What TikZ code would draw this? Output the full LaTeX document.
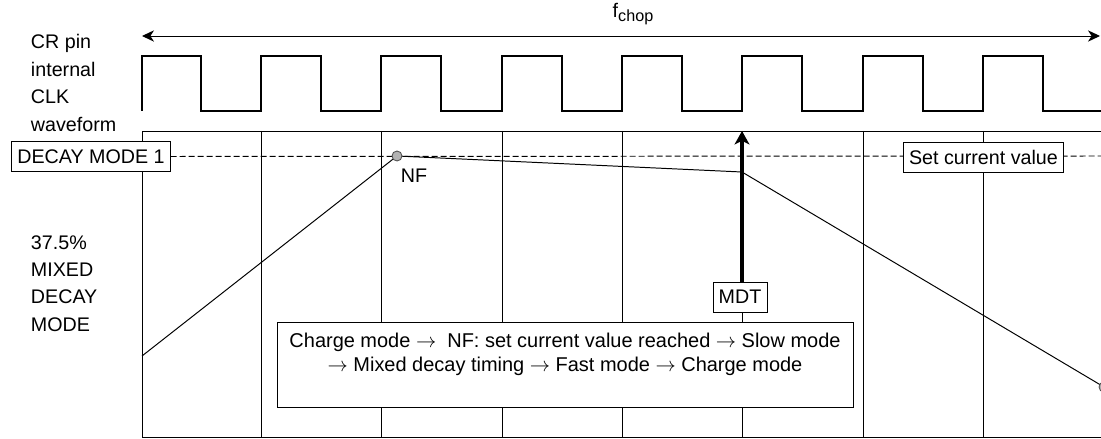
\documentclass[tikz,border=0pt]{standalone}
\usepackage{fontspec}
\setmainfont{Liberation Sans}
\usetikzlibrary{arrows.meta,positioning}

\tikzset{
    labelbox/.style={draw, fill=white, inner sep=4pt, minimum height=0.75cm},
    gridline/.style={line width=0.7pt},
    pointmark/.style={circle, draw=black!70, fill=black!30, line width=0.6pt, inner sep=0pt, minimum size=0.25cm},
}

\begin{document}
\begin{tikzpicture}[x=0.025cm, y=-0.025cm, font=\fontsize{14}{19.5}\selectfont]
    \clip (0,0) rectangle (1101,439);

    % Frequency arrow across the top
    \draw[{Stealth[length=8.5pt,width=8pt,inset=2.5pt]}-{Stealth[length=8.5pt,width=8pt,inset=2.5pt]}, line width=0.7pt]
        (142,36) -- (1100,36);
    \node (fchop) at (633,14) {f{\fontsize{11.5}{12}\selectfont\raisebox{-0.45ex}{chop}}};

    % Clock waveform
    \draw[line width=1.5pt] (142,111) -- (142,56) -- (201,56) -- (201,111)
        -- (261,111) -- (261,56) -- (321,56) -- (321,111)
        -- (381,111) -- (381,56) -- (441,56) -- (441,111)
        -- (502,111) -- (502,56) -- (562,56) -- (562,111)
        -- (622,111) -- (622,56) -- (682,56) -- (682,111)
        -- (742,111) -- (742,56) -- (802,56) -- (802,111)
        -- (863,111) -- (863,56) -- (923,56) -- (923,111)
        -- (983,111) -- (983,56) -- (1043,56) -- (1043,111)
        -- (1101,111);

    % Labels on the left
    \node[anchor=west, align=left] (clklabel) at (26,83) {CR pin\\internal\\CLK\\waveform};
    \node[anchor=west, align=left] (modelabel) at (26,283.5) {37.5\%\\MIXED\\DECAY\\MODE};

    % Chopping grid
    \draw[gridline] (1101,131) -- (142,131) -- (142,437) -- (1101,437);
    \draw[gridline] (261,131) -- (261,437);
    \draw[gridline] (381,131) -- (381,437);
    \draw[gridline] (502,131) -- (502,437);
    \draw[gridline] (622,131) -- (622,437);
    \draw[gridline] (742,131) -- (742,437);
    \draw[gridline] (863,131) -- (863,437);
    \draw[gridline] (983,131) -- (983,437);

    % Set current level
    \node[labelbox] (decay) at (91,156.5) {DECAY MODE 1};
    \draw[dash pattern=on 4.3pt off 2.1pt, line width=0.7pt] (decay.east) -- (1101,156);
    \node[labelbox] (setval) at (983.5,157) {Set current value};

    % Current waveform
    \coordinate (start) at (142,356);
    \coordinate (slowend) at (742,172);
    \coordinate (fastend) at (1104,387);
    \draw[line width=0.7pt] (start) -- (397,156) -- (slowend) -- (fastend);
    \node[pointmark] (nf) at (397,156) {};
    \node (nflabel) at (414,176) {NF};
    \node[pointmark] (endpt) at (fastend) {};

    % Mixed decay timing
    \node[labelbox] (mdt) at (740,297) {MDT};
    \coordinate (mdttop) at (742,131);
    \draw[-{Stealth[length=9.5pt,width=10.5pt,inset=2.5pt]}, line width=2.5pt] (mdt.north -| mdttop) -- (mdttop);

    % Sequence description
    \node[draw, fill=white, align=center, minimum width=14.4cm, minimum height=2.125cm,
          font=\fontsize{14.2}{17}\selectfont] (seq) at (565,364.5)
        {Charge mode \(\rightarrow\)\ \ NF: set current value reached \(\rightarrow\) Slow mode\\
         \(\rightarrow\) Mixed decay timing \(\rightarrow\) Fast mode \(\rightarrow\) Charge mode\\ \mbox{}};
\end{tikzpicture}
\end{document}
